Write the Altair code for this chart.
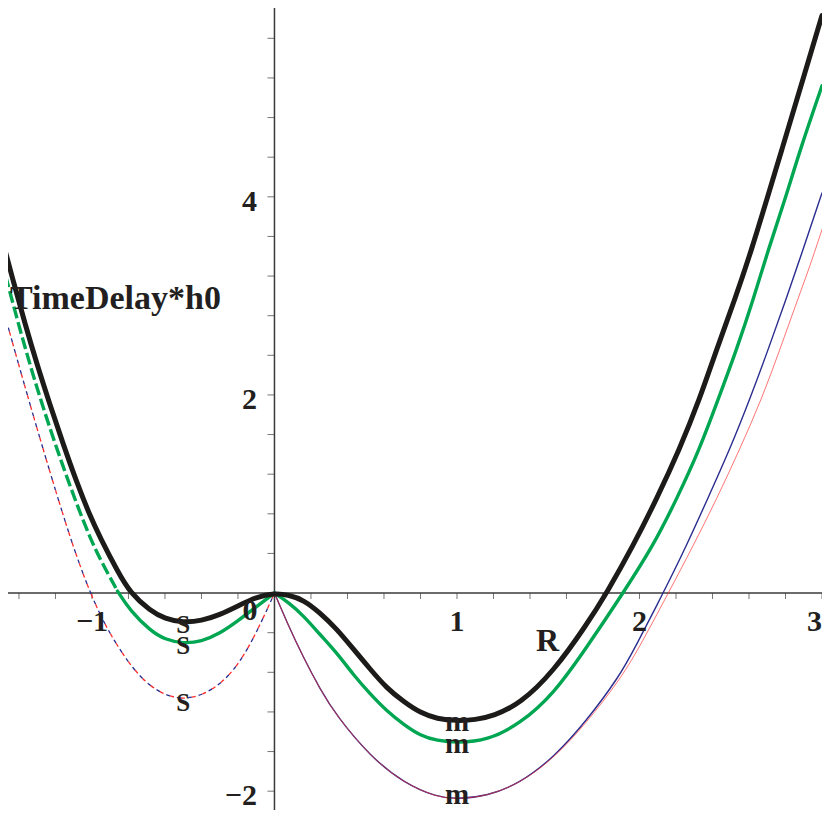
import altair as alt
import pandas as pd

# ---------------- data ----------------
black_x = [-1.495, -1.43, -1.367, -1.303, -1.23, -1.157, -1.084, -1.011, -0.955, -0.86, -0.79,
           -0.68, -0.6, -0.5, -0.4, -0.3, -0.2, -0.1, 0.0, 0.08, 0.16, 0.25, 0.34, 0.43, 0.525,
           0.615, 0.71, 0.8, 0.89, 1.0, 1.1, 1.2, 1.345, 1.53, 1.71, 1.82, 1.966, 2.094, 2.22,
           2.33, 2.423, 2.523, 2.615, 2.697, 2.78, 2.862, 3.0]
black_y = [3.59, 3.14, 2.72, 2.32, 1.90, 1.50, 1.12, 0.78, 0.56, 0.22, 0.0,
           -0.18, -0.26, -0.30, -0.28, -0.22, -0.13, -0.04, 0.0, -0.02, -0.07, -0.20, -0.36, -0.56, -0.77,
           -0.96, -1.10, -1.21, -1.27, -1.29, -1.28, -1.24, -1.12, -0.79, -0.32, 0.0, 0.48, 0.95, 1.455,
           1.96, 2.462, 2.966, 3.47, 3.97, 4.476, 4.98, 5.83]

green_x = [-1.495, -1.43, -1.367, -1.303, -1.23, -1.157, -1.084, -1.011, -0.955, -0.86, -0.79,
           -0.68, -0.6, -0.5, -0.4, -0.3, -0.2, -0.1, 0.0, 0.08, 0.16, 0.25, 0.34, 0.43, 0.525,
           0.615, 0.71, 0.8, 0.89, 1.0, 1.165, 1.345, 1.53, 1.71, 1.91, 2.076, 2.204, 2.33,
           2.432, 2.533, 2.624, 2.706, 2.797, 2.88, 3.0]
green_y = [3.36, 2.90, 2.48, 2.08, 1.66, 1.27, 0.90, 0.56, 0.34, 0.02, -0.18,
           -0.38, -0.47, -0.51, -0.49, -0.41, -0.28, -0.14, 0.0, -0.10, -0.23, -0.42, -0.60, -0.82, -1.02,
           -1.19, -1.33, -1.44, -1.49, -1.51, -1.49, -1.32, -1.02, -0.55, 0.0, 0.48, 0.95, 1.455,
           1.96, 2.462, 2.966, 3.47, 3.97, 4.476, 5.12]

blue_x = [-1.49, -1.41, -1.32, -1.23, -1.157, -1.09, -1.01, -0.915, -0.77, -0.645, -0.5, -0.35,
          -0.22, -0.11, 0.0, 0.067, 0.158, 0.25, 0.34, 0.525, 0.71, 0.89, 1.0, 1.165, 1.345,
          1.53, 1.71, 1.89, 1.97, 2.13, 2.258, 2.368, 2.496, 2.605, 2.706, 2.803, 2.88, 3.0]
blue_y = [2.89, 2.36, 1.78, 1.22, 0.78, 0.40, 0.0, -0.38, -0.79, -1.00, -1.09, -1.00,
          -0.79, -0.45, 0.0, -0.29, -0.65, -0.97, -1.24, -1.65, -1.92, -2.06, -2.08, -2.05, -1.92,
          -1.66, -1.29, -0.84, -0.57, 0.0, 0.48, 0.93, 1.455, 1.96, 2.462, 2.966, 3.38, 4.04]

red_x = [-1.49, -1.41, -1.32, -1.23, -1.157, -1.09, -1.01, -0.915, -0.77, -0.645, -0.5, -0.35,
         -0.22, -0.11, 0.0, 0.067, 0.158, 0.25, 0.34, 0.525, 0.71, 0.89, 1.0, 1.165, 1.345,
         1.53, 1.71, 1.89, 1.99, 2.158, 2.295, 2.423, 2.55, 2.67, 2.77, 2.867, 2.934, 3.0]
red_y = [2.89, 2.36, 1.78, 1.22, 0.78, 0.40, 0.0, -0.38, -0.79, -1.00, -1.09, -1.00,
         -0.79, -0.45, 0.0, -0.29, -0.65, -0.97, -1.24, -1.65, -1.92, -2.06, -2.08, -2.05, -1.92,
         -1.67, -1.31, -0.88, -0.58, 0.0, 0.48, 0.95, 1.455, 1.96, 2.462, 2.966, 3.30, 3.67]

x_tick_values = [-1.4, -1.2, -1.0, -0.8, -0.6, -0.4, -0.2, 0.0, 0.2, 0.4, 0.6, 0.8, 1.0,
                 1.2, 1.4, 1.6, 1.8, 2.0, 2.2, 2.4, 2.6, 2.8, 3.0]
y_tick_values = [-2.0, -1.6, -1.2, -0.8, -0.4, 0.0, 0.4, 0.8, 1.2, 1.6, 2.0, 2.4, 2.8, 3.2,
                 3.6, 4.0, 4.4, 4.8, 5.2, 5.6]
x_label_text = ["\u22121", "1", "2"]
x_label_vals = [-1, 1, 2]
x_last_text = ["3"]
x_last_val = [3]
y_label_text = ["\u22122", "2", "4"]
y_label_vals = [-2, 2, 4]
s_label_y = [-0.30, -0.51, -1.09]     # left minima (black, green, blue/red)
m_label_y = [-1.29, -1.51, -2.03]     # right minima (label positions)
s_label_x = -0.5
m_label_x = 1.0

# ---------------- helpers ----------------
XD = [-1.46, 3.0]
YD = [-2.19, 5.906]
xs = alt.Scale(domain=XD, nice=False, zero=False)
ys = alt.Scale(domain=YD, nice=False, zero=False)


def seg(xv, yv, lo, hi):
    return pd.DataFrame([{"x": a, "y": b} for a, b in zip(xv, yv) if lo <= a <= hi])


def line(df, color, width, dash=None, offset=0, opacity=1.0):
    kw = dict(color=color, strokeWidth=width, interpolate="basis", clip=True,
              opacity=opacity, strokeCap="round")
    if dash:
        kw["strokeDash"] = dash
        kw["strokeDashOffset"] = offset
        kw["strokeCap"] = "butt"
    return alt.Chart(df).mark_line(**kw).encode(
        x=alt.X("x:Q", scale=xs, axis=None),
        y=alt.Y("y:Q", scale=ys, axis=None),
        order="x:Q",
    )


def text(df, size, align="center", color="#231f20"):
    return alt.Chart(df).mark_text(
        font="Liberation Serif", fontWeight="bold", fontSize=size, align=align,
        baseline="alphabetic", color=color
    ).encode(
        x=alt.X("x:Q", scale=xs, axis=None),
        y=alt.Y("y:Q", scale=ys, axis=None),
        text="t:N",
    )


BLUE = "#2a2d8f"
RED = "#ff2a2a"
GREEN = "#00a651"
BLACK = "#1d1a1a"
AX = "#3a3a3a"

layers = []

# axes
layers.append(alt.Chart(pd.DataFrame({"v": [0]})).mark_rule(color=AX, strokeWidth=1.5).encode(
    y=alt.Y("v:Q", scale=ys, axis=None)))
layers.append(alt.Chart(pd.DataFrame({"v": [0]})).mark_rule(color=AX, strokeWidth=1.5).encode(
    x=alt.X("v:Q", scale=xs, axis=None)))
layers.append(alt.Chart(pd.DataFrame({"x": x_tick_values, "y": [0.0] * len(x_tick_values)})).mark_tick(
    orient="vertical", size=6, thickness=1, yOffset=3, color=AX).encode(
    x=alt.X("x:Q", scale=xs, axis=None), y=alt.Y("y:Q", scale=ys, axis=None)))
layers.append(alt.Chart(pd.DataFrame({"y": y_tick_values, "x": [0.0] * len(y_tick_values)})).mark_tick(
    orient="horizontal", size=7, thickness=1, xOffset=-3.5, color=AX).encode(
    x=alt.X("x:Q", scale=xs, axis=None), y=alt.Y("y:Q", scale=ys, axis=None)))

# blue / red (overlapping) -- left lobe dashed
layers.append(line(seg(blue_x, blue_y, -1.6, 0.0), BLUE, 1.3, dash=[4, 7], offset=0))
layers.append(line(seg(red_x, red_y, -1.6, 0.0), RED, 1.3, dash=[4, 7], offset=7))
layers.append(line(seg(blue_x, blue_y, 0.0, 3.0), BLUE, 1.4))
layers.append(line(seg(red_x, red_y, 0.0, 3.0), RED, 1.0, opacity=0.65))

# green
layers.append(line(seg(green_x, green_y, -1.6, -0.86), GREEN, 3.4, dash=[12, 4]))
layers.append(line(seg(green_x, green_y, -0.86, 0.0), GREEN, 3.4))
layers.append(line(seg(green_x, green_y, 0.0, 3.0), GREEN, 3.4))

# black
layers.append(line(seg(black_x, black_y, -1.6, 3.0), BLACK, 5.0))

# texts
xl = pd.DataFrame({"t": x_label_text, "x": x_label_vals, "y": [-0.388] * len(x_label_vals)})
layers.append(text(xl, 30))
x3 = pd.DataFrame({"t": x_last_text, "x": x_last_val, "y": [-0.388]})
layers.append(text(x3, 30, align="right"))
zl = pd.DataFrame({"t": ["0"], "x": [-0.134], "y": [-0.277]})
layers.append(text(zl, 30))
yl = pd.DataFrame({"t": y_label_text, "x": [-0.096] * len(y_label_vals),
                   "y": [v - 0.142 for v in y_label_vals]})
layers.append(text(yl, 30, align="right"))
tl = pd.DataFrame({"t": ["TimeDelay*h0"], "x": [-1.449], "y": [2.865]})
layers.append(text(tl, 34, align="left"))
rl = pd.DataFrame({"t": ["R"], "x": [1.496], "y": [-0.589]})
layers.append(text(rl, 32))
sl = pd.DataFrame({"t": ["S"] * 3, "x": [s_label_x] * 3, "y": [v - 0.105 for v in s_label_y]})
layers.append(text(sl, 25))
ml = pd.DataFrame({"t": ["m"] * 3, "x": [m_label_x] * 3, "y": [v - 0.10 for v in m_label_y]})
layers.append(text(ml, 29))

chart = alt.layer(*layers).properties(
    width=814, height=802, padding=0, background="white",
    autosize=alt.AutoSizeParams(type="none"),
).configure_view(stroke=None)

chart.save("out.html", embed_options={"renderer": "svg", "actions": False})
